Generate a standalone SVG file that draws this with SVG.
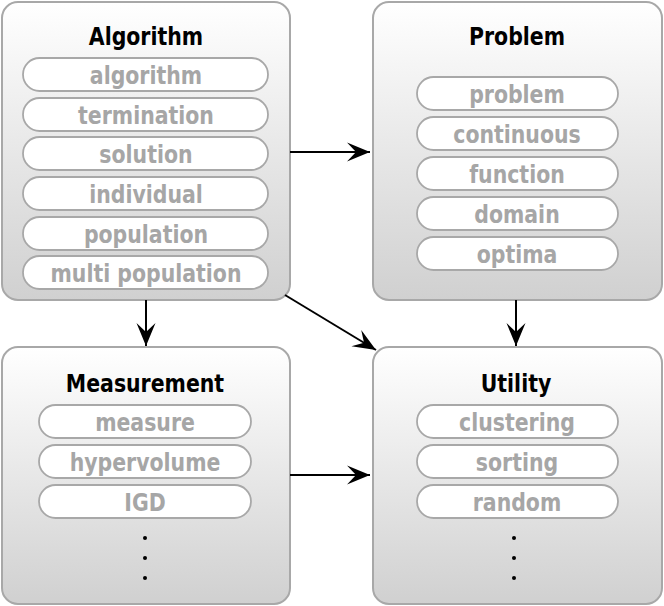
<svg xmlns="http://www.w3.org/2000/svg" width="664" height="606" viewBox="0 0 664 606">
<defs>
<linearGradient id="g" x1="0" y1="0" x2="0" y2="1">
<stop offset="0" stop-color="#ffffff"/>
<stop offset="1" stop-color="#d0d0d0"/>
</linearGradient>
<marker id="ah" viewBox="-25 -12 27 24" refX="0" refY="0" markerWidth="27" markerHeight="24" markerUnits="userSpaceOnUse" orient="auto">
<path d="M0,0 L-23,-9.5 L-14,0 L-23,9.5 Z" fill="#000"/>
</marker>
</defs>
<style>
.box{fill:url(#g);stroke:#a8a8a8;stroke-width:2}
.pill{fill:#fff;stroke:#a8a8a8;stroke-width:1.8}
.t{font-family:"DejaVu Sans Condensed","DejaVu Sans",sans-serif;font-weight:bold;font-size:25px;text-anchor:middle;transform-box:fill-box;transform-origin:center;transform:scaleX(0.91)}
.title{fill:#000}
.item{fill:#a6a6a6}
.c{stroke:#000;stroke-width:2;fill:none;marker-end:url(#ah)}
.dot{fill:#000}
</style>
<g id="algorithm">
<rect class="box" x="2" y="2" width="288" height="298" rx="16"/>
<text class="t title" x="146" y="45">Algorithm</text>
<rect class="pill" x="23" y="58" width="245" height="33" rx="16.5"/><text class="t item" x="146" y="84">algorithm</text>
<rect class="pill" x="23" y="98" width="245" height="33" rx="16.5"/><text class="t item" x="146" y="124">termination</text>
<rect class="pill" x="23" y="137" width="245" height="33" rx="16.5"/><text class="t item" x="146" y="163">solution</text>
<rect class="pill" x="23" y="177" width="245" height="33" rx="16.5"/><text class="t item" x="146" y="203">individual</text>
<rect class="pill" x="23" y="217" width="245" height="33" rx="16.5"/><text class="t item" x="146" y="243">population</text>
<rect class="pill" x="23" y="256" width="245" height="33" rx="16.5"/><text class="t item" x="146" y="282">multi population</text>
</g>
<g id="problem">
<rect class="box" x="373" y="2" width="289" height="298" rx="16"/>
<text class="t title" x="517" y="45">Problem</text>
<rect class="pill" x="417" y="77" width="201" height="33" rx="16.5"/><text class="t item" x="517" y="103">problem</text>
<rect class="pill" x="417" y="117" width="201" height="33" rx="16.5"/><text class="t item" x="517" y="143">continuous</text>
<rect class="pill" x="417" y="157" width="201" height="33" rx="16.5"/><text class="t item" x="517" y="183">function</text>
<rect class="pill" x="417" y="197" width="201" height="33" rx="16.5"/><text class="t item" x="517" y="223">domain</text>
<rect class="pill" x="417" y="237" width="201" height="33" rx="16.5"/><text class="t item" x="517" y="263">optima</text>
</g>
<g id="measurement">
<rect class="box" x="2" y="347" width="288" height="257" rx="16"/>
<text class="t title" x="145" y="392">Measurement</text>
<rect class="pill" x="39" y="405" width="212" height="33" rx="16.5"/><text class="t item" x="145" y="431">measure</text>
<rect class="pill" x="39" y="445" width="212" height="33" rx="16.5"/><text class="t item" x="145" y="471">hypervolume</text>
<rect class="pill" x="39" y="485" width="212" height="33" rx="16.5"/><text class="t item" x="145" y="511">IGD</text>
<circle class="dot" cx="145" cy="538" r="2"/><circle class="dot" cx="145" cy="558" r="2"/><circle class="dot" cx="145" cy="578" r="2"/>
</g>
<g id="utility">
<rect class="box" x="373" y="347" width="289" height="257" rx="16"/>
<text class="t title" x="516" y="392">Utility</text>
<rect class="pill" x="417" y="405" width="201" height="33" rx="16.5"/><text class="t item" x="517" y="431">clustering</text>
<rect class="pill" x="417" y="445" width="201" height="33" rx="16.5"/><text class="t item" x="517" y="471">sorting</text>
<rect class="pill" x="417" y="485" width="201" height="33" rx="16.5"/><text class="t item" x="517" y="511">random</text>
<circle class="dot" cx="514" cy="538" r="2"/><circle class="dot" cx="514" cy="558" r="2"/><circle class="dot" cx="514" cy="578" r="2"/>
</g>
<g id="connectors">
<line class="c" x1="290" y1="152" x2="370" y2="152"/>
<line class="c" x1="146" y1="300" x2="146" y2="346"/>
<line class="c" x1="285" y1="295" x2="376" y2="350"/>
<line class="c" x1="516" y1="300" x2="516" y2="346"/>
<line class="c" x1="290" y1="475" x2="370" y2="475"/>
</g>
</svg>
